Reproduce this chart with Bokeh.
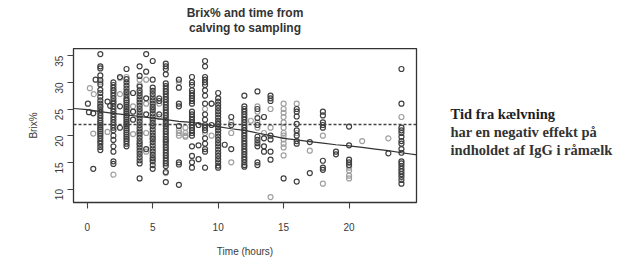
import math
from bokeh.plotting import figure
from bokeh.layouts import row, column
from bokeh.models import FixedTicker, Span, Label, Range1d
from bokeh.embed import file_html
from bokeh.resources import INLINE

# ---- data ----
dark_hours = (
    [0.05, 0.13, 0.46, 0.46, 0.64]
    + [1] * 29
    + [1.55, 1.75]
    + [2] * 25
    + [2.5] * 3
    + [3] * 30
    + [3.5] * 3
    + [4] * 28
    + [4.5] * 5
    + [5] * 28
    + [5.5] * 3
    + [6] * 38
    + [7] * 8
    + [8] * 23
    + [8.5] * 3
    + [9] * 19
    + [9.5] * 2
    + [10] * 24
    + [10.5]
    + [11] * 3
    + [12] * 25
    + [13] * 10
    + [13.5] * 4
    + [14] * 7
    + [15]
    + [16] * 9
    + [17] * 2
    + [18] * 8
    + [19] * 2
    + [20] * 5
    + [23]
    + [24] * 19
)
dark_brix = (
    [26.0, 24.4, 24.2, 13.8, 30.5]
    + [35.3, 33.0, 32.6, 31.3, 30.4, 29.6, 28.6, 28.0, 27.3, 26.6, 26.0, 25.4, 24.8, 24.3, 23.8,
       23.3, 22.8, 22.4, 22.0, 21.6, 21.2, 20.8, 20.4, 20.0, 19.5, 19.0, 18.5, 17.9, 17.3]
    + [26.4, 25.6]
    + [30.0, 29.5, 29.0, 28.5, 28.0, 27.5, 27.0, 26.5, 26.0, 25.5, 25.0, 24.5, 24.0, 23.5, 23.0,
       22.5, 22.0, 21.5, 21.0, 20.0, 19.2, 18.0, 17.0, 15.2, 14.7]
    + [31.0, 25.5, 21.5]
    + [32.5, 30.6, 30.0, 29.4, 28.8, 28.2, 27.6, 27.0, 26.6, 26.2, 25.8, 25.4, 25.0, 24.6, 24.2,
       23.8, 23.4, 23.0, 22.6, 22.2, 21.8, 21.4, 21.0, 20.6, 20.2, 19.8, 19.4, 19.0, 18.5, 18.0]
    + [28.0, 24.5, 23.0]
    + [33.0, 31.2, 29.2, 28.5, 28.0, 27.4, 26.8, 26.2, 25.6, 25.0, 24.4, 23.8, 23.2, 22.6, 22.0,
       21.4, 20.8, 20.2, 19.6, 19.0, 18.4, 17.8, 17.2, 16.6, 16.0, 15.4, 14.8, 12.0]
    + [35.3, 32.0, 27.0, 24.0, 17.5]
    + [34.0, 30.5, 29.0, 28.4, 27.8, 27.2, 26.6, 26.0, 25.4, 24.8, 24.2, 23.6, 23.0, 22.4, 21.8,
       21.2, 20.6, 20.0, 19.4, 18.8, 18.2, 17.6, 17.0, 16.4, 15.8, 15.2, 14.5, 13.8]
    + [27.0, 26.5, 24.0]
    + [33.5, 33.0, 32.5, 31.5, 29.8, 29.3, 28.8, 28.3, 27.8, 27.3, 26.8, 26.3, 25.8, 25.3, 24.8,
       24.3, 23.8, 23.3, 22.8, 22.3, 21.8, 21.3, 20.8, 20.3, 19.8, 19.3, 18.8, 18.3, 17.8, 17.3,
       16.8, 16.3, 15.8, 15.3, 14.8, 14.3, 13.2, 11.3]
    + [30.5, 29.0, 26.0, 25.5, 21.8, 15.0, 14.6, 10.8]
    + [31.0, 30.0, 29.5, 28.5, 28.0, 27.5, 27.0, 26.5, 26.0, 24.5, 24.0, 23.5, 23.0, 22.5, 22.0,
       21.5, 21.0, 20.5, 20.0, 18.0, 16.2, 15.0, 14.0]
    + [22.0, 18.2, 15.6]
    + [34.0, 33.0, 31.0, 30.5, 30.0, 29.5, 28.5, 27.5, 26.0, 24.0, 23.0, 22.0, 21.5, 21.0, 19.5,
       18.5, 17.5, 17.0, 14.0]
    + [26.0, 22.0]
    + [28.0, 27.0, 26.4, 25.8, 25.2, 24.6, 24.0, 23.4, 22.8, 22.2, 21.6, 21.0, 20.4, 19.8, 19.2,
       18.6, 18.0, 17.4, 16.8, 16.2, 15.6, 15.0, 14.4, 14.0]
    + [18.3]
    + [23.5, 22.0, 17.5]
    + [27.5, 25.5, 25.0, 24.5, 24.0, 23.5, 23.0, 22.5, 22.0, 21.5, 21.0, 20.5, 20.0, 19.5, 19.0,
       18.5, 18.0, 17.5, 17.0, 16.5, 16.0, 15.5, 15.0, 14.5, 14.2]
    + [28.3, 25.0, 23.3, 22.0, 19.8, 19.2, 18.6, 18.0, 15.0, 14.5]
    + [23.5, 19.5, 18.0, 17.0]
    + [27.5, 27.0, 26.5, 20.0, 19.3, 17.0, 15.5]
    + [12.0]
    + [25.0, 24.5, 23.6, 22.2, 21.0, 20.0, 19.0, 18.5, 11.4]
    + [18.8, 13.0]
    + [24.5, 23.8, 22.5, 22.0, 21.5, 15.3, 14.0, 13.6]
    + [17.0, 16.5]
    + [21.7, 18.2, 15.5, 15.0, 14.5]
    + [16.7]
    + [32.5, 26.0, 21.5, 21.0, 20.5, 19.8, 19.0, 18.5, 17.5, 16.8, 15.2, 14.8, 14.3, 13.8, 13.3,
       12.8, 12.3, 11.7, 11.0]
)

light_hours = (
    [0.2, 0.5, 0.46]
    + [1] * 2 + [1.55] + [2] * 3 + [2.5] * 2 + [3] * 2 + [3.5] * 2 + [4] * 4 + [4.5] * 4
    + [5] * 3 + [5.5] * 2 + [6] * 3 + [7] * 4 + [7.5] * 4 + [8] + [9] * 2 + [9.5] * 2
    + [10] * 2 + [11] * 3 + [12.5] + [13] * 4 + [13.5] + [14] * 3 + [15] * 12 + [16] * 2
    + [17] + [18] * 2 + [20] * 4 + [21] + [23] + [24]
)
light_brix = (
    [28.9, 27.8, 20.4]
    + [30.0, 25.5] + [20.7] + [12.7, 26.3, 28.5] + [27.8, 30.8] + [31.0, 28.0] + [25.5, 20.3]
    + [30.5, 29.5, 20.5, 18.5] + [30.5, 26.0, 20.5, 17.0] + [25.0, 19.5, 15.5] + [26.0, 23.5]
    + [22.0, 19.0, 13.0] + [30.0, 20.5, 20.0, 21.0] + [20.5, 20.0, 21.5, 19.8] + [22.5]
    + [25.0, 20.5] + [26.0, 20.0] + [22.5, 21.0] + [22.5, 20.5, 15.0] + [22.8]
    + [25.5, 24.5, 22.5, 21.5] + [20.5] + [25.0, 21.5, 8.5]
    + [26.0, 25.0, 24.3, 23.5, 22.5, 21.5, 20.5, 20.0, 19.3, 18.5, 17.8, 16.3] + [26.0, 20.5]
    + [17.2] + [20.0, 11.0] + [14.0, 13.5, 12.5, 12.0] + [19.0] + [19.5] + [23.5]
)

fit_hours = [-1, 0, 1, 2, 3, 4, 5, 6, 7, 8, 9, 10, 11, 12, 13, 14, 15, 16, 17, 18, 19, 20,
             21, 22, 23, 24, 25.2]
fit_brix = [25.1, 24.9, 24.5, 24.2, 23.9, 23.6, 23.3, 23.0, 22.7, 22.5, 22.1, 21.7, 21.3,
            21.0, 20.5, 20.0, 19.5, 19.2, 18.9, 18.6, 18.3, 18.1, 17.8, 17.5, 17.2, 16.8, 16.4]

mean_brix = 22.1

x_ticks = [0, 5, 10, 15, 20]
y_ticks = [10, 15, 20, 25, 30, 35]

title_lines = ["Brix% and time from", "calving to sampling"]
note_lines = ["Tid fra kælvning", "har en negativ effekt på", "indholdet af IgG i råmælk"]

TOP = 48          # height of the title strip
BOTTOM = 54       # space below the scatter frame
H = 157 + BOTTOM  # height of the plot row
W1, W2 = 424, 208
hours_range = Range1d(-1.05, 25.15)
brix_range = Range1d(7.48, 36.34)


def blank(fig):
    fig.title.visible = False
    fig.grid.visible = False
    fig.outline_line_color = None
    fig.background_fill_color = "white"
    fig.border_fill_color = "white"


# ---- title strip (frame spans the same columns as the scatter frame) ----
t = figure(width=W1, height=TOP, x_range=hours_range, y_range=Range1d(TOP, 0),
           output_backend="svg", toolbar_location=None,
           x_axis_location=None, y_axis_location=None,
           min_border_left=73, min_border_right=8, min_border_top=0, min_border_bottom=0)
blank(t)
title_centres = [12.5, 27.5]
for i, txt in enumerate(title_lines):
    t.add_layout(Label(x=12.05, y=title_centres[i], text=txt, text_align="center",
                       text_baseline="middle", text_font="Liberation Sans",
                       text_font_size="12px", text_font_style="bold", text_color="#333333"))

# ---- main scatter figure ----
p = figure(width=W1, height=H, x_range=hours_range, y_range=brix_range,
           output_backend="svg", toolbar_location=None,
           min_border_left=73, min_border_right=8, min_border_top=0, min_border_bottom=BOTTOM)
p.title.visible = False
p.grid.visible = False
p.outline_line_color = "#333333"
p.outline_line_width = 1.3
p.background_fill_color = "white"
p.border_fill_color = "white"

TXT = "#3a3a3a"
for ax in (p.xaxis[0], p.yaxis[0]):
    ax.axis_line_color = None
    ax.major_tick_out = 6
    ax.major_tick_in = 0
    ax.major_tick_line_color = "#444444"
    ax.major_tick_line_width = 1.1
    ax.minor_tick_line_color = None
    ax.major_label_text_font = "Liberation Sans"
    ax.major_label_text_font_size = "10px"
    ax.major_label_text_color = TXT
    ax.axis_label_text_font = "Liberation Sans"
    ax.axis_label_text_font_size = "10px"
    ax.axis_label_text_font_style = "normal"
    ax.axis_label_text_color = TXT

p.xaxis.ticker = FixedTicker(ticks=x_ticks)
p.yaxis.ticker = FixedTicker(ticks=y_ticks)
p.xaxis.axis_label = "Time (hours)"
p.yaxis.axis_label = "Brix%"
p.xaxis.major_label_standoff = 14
p.xaxis.axis_label_standoff = 12
p.yaxis.major_label_orientation = math.pi / 2
p.yaxis.major_label_standoff = 8
p.yaxis.axis_label_standoff = 10

p.scatter(light_hours, light_brix, marker="circle", size=5, fill_color=None,
          line_color="#a0a0a0", line_width=1.2)
p.scatter(dark_hours, dark_brix, marker="circle", size=5, fill_color=None,
          line_color="#404040", line_width=1.2)

p.line(fit_hours, fit_brix, line_color="#333333", line_width=1.2)
p.add_layout(Span(location=mean_brix, dimension="width", line_color="#444444",
                  line_width=1.3, line_dash="3 2"))

# ---- side note panel (shares the Brix scale of the scatter) ----
q = figure(width=W2, height=H, x_range=Range1d(0, W2), y_range=brix_range,
           output_backend="svg", toolbar_location=None,
           x_axis_location=None, y_axis_location=None,
           min_border_left=0, min_border_right=0, min_border_top=0, min_border_bottom=BOTTOM)
blank(q)

note_baselines = [24.0, 20.7, 17.4]
for i, txt in enumerate(note_lines):
    q.add_layout(Label(x=26, y=note_baselines[i], text=txt, text_align="left",
                       text_baseline="alphabetic", text_font="Liberation Serif",
                       text_font_size="14.5px", text_font_style="bold",
                       text_color="#1e1e1e" if i == 0 else "#333333"))

layout = column(t, row(p, q, spacing=0), spacing=0)
open("out.html", "w").write(file_html(layout, INLINE))
